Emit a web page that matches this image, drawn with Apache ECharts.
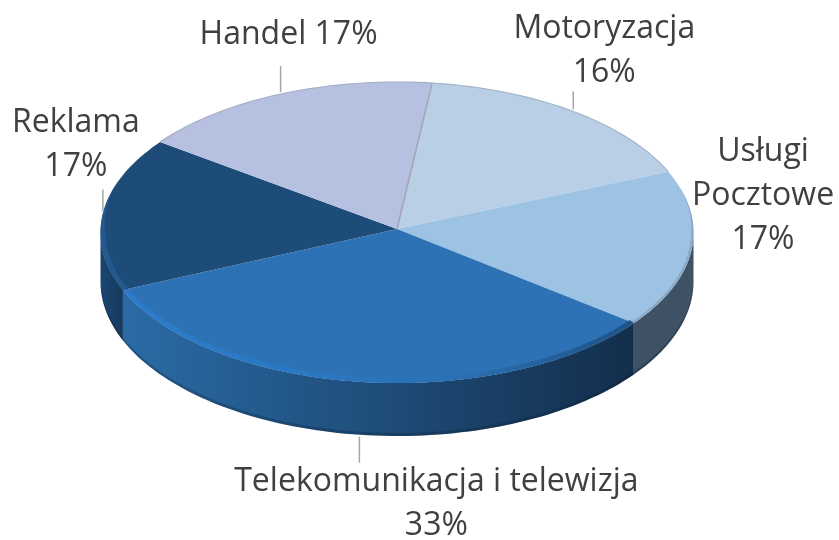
<!DOCTYPE html>
<html lang="pl">
<head>
<meta charset="utf-8">
<title>Pie 3D</title>
<script src="https://cdn.jsdelivr.net/npm/echarts@6/dist/echarts.min.js"></script>
<style>
html, body { margin: 0; padding: 0; background: #fff; }
#chart { width: 839px; height: 540px; }
</style>
</head>
<body>
<div id="chart"></div>
<script>
// values, clockwise from the top
var categories = ['Motoryzacja', 'Usługi\nPocztowe', 'Telekomunikacja i telewizja', 'Reklama', 'Handel'];
var values = [16.49, 16.9, 33.49, 16.5, 16.62];

var topColors = ['#b9cfe6', '#9cc2e4', '#2d72b5', '#1d4c78', '#b6c0e0'];
var backRim = ['#a3b4c8', null, null, null, '#a6afc8'];
var bandColors = [
    null,
    ['#8fa9c2', '#8fa9c2'],
    ['#2c7bca', '#2b78c4', '#2a70b2', '#1d5286'],
    ['#22598f', '#22598f'],
    null
];
var sideColors = [
    ['#3f5164', '#3f5164'], ['#3f5164', '#3f5164'],
    ['#2a6ba6', '#132e4c'], ['#1b4570', '#163a5e'], ['#1c4a76', '#1c4a76']
];

// label offset from the leader end
var labelLayout = [
    { dx: 31, dy: -41, leader: 20 },
    { fixed: [763, 196] },
    { dx: 77, dy: 41, leader: 28 },
    { dx: -27, dy: -45, leader: 24 },
    { dx: 8, dy: -31, leader: 28 }
];

var cx = 397, cy = 232.5, rx = 296.5, ry = 150.5;
var apex = [397, 229];
var startAngle = 6.8;
var font = '"Open Sans", sans-serif';

var total = values.reduce(function (a, b) { return a + b; }, 0);

function rad(a) { return a * Math.PI / 180; }
function wallDepth(a) { return 49 - 4 * Math.cos(rad(a)); }

function rimPoint(a, dy, inset) {
    var w = inset || 0;
    return [cx + (rx - w) * Math.sin(rad(a)), cy - (ry - w) * Math.cos(rad(a)) + (dy || 0)];
}
function angles(a0, a1) {
    var list = [];
    for (var a = a0; a < a1; a += 1.5) list.push(a);
    list.push(a1);
    return list;
}
function arc(a0, a1) {
    return angles(a0, a1).map(function (a) { return rimPoint(a); });
}
function wallArc(a0, a1, up) {
    return angles(a0, a1).map(function (a) { return rimPoint(a, wallDepth(a) - up); });
}
// bevel width tapers off towards the back of the disc
function bevel(a, w) {
    return w * Math.min(1, Math.max(0, (a - 72) / 20)) * Math.min(1, Math.max(0, (288 - a) / 20));
}
function bevelBand(a0, a1, w) {
    var outer = arc(a0, a1);
    var inner = angles(a0, a1).map(function (a) { return rimPoint(a, 0, bevel(a, w)); });
    return outer.concat(inner.reverse());
}
function hGradient(xa, xb, colors) {
    return new echarts.graphic.LinearGradient(Math.min(xa, xb), 0, Math.max(xa, xb), 0,
        colors.map(function (c, k) { return { offset: k / (colors.length - 1), color: c }; }), true);
}

function renderSlice(params, api) {
    var i = params.dataIndex;
    var before = values.slice(0, i).reduce(function (a, b) { return a + b; }, 0);
    var a0 = startAngle + before / total * 360;
    var a1 = a0 + api.value(0) / total * 360;
    var kids = [];

    // side wall, only the front half of the disc shows one
    var s0 = Math.max(a0, 90), s1 = Math.min(a1, 270);
    if (s1 > s0) {
        kids.push({
            type: 'polygon', shape: { points: arc(s0, s1).concat(wallArc(s0, s1, 0).reverse()) },
            style: { fill: hGradient(rimPoint(s0)[0], rimPoint(s1)[0], sideColors[i]) }
        });
        kids.push({
            type: 'polygon', shape: { points: wallArc(s0, s1, 0).concat(wallArc(s0, s1, 3).reverse()) },
            style: { fill: 'rgba(8,24,44,0.25)' }
        });
    }

    // top face
    kids.push({
        type: 'polygon', shape: { points: [apex].concat(arc(a0, a1)) },
        style: { fill: topColors[i] }
    });
    if (bandColors[i]) {
        kids.push({
            type: 'polygon', shape: { points: bevelBand(a0, a1, i === 1 ? 2.5 : 5) },
            style: { fill: hGradient(rimPoint(a0)[0], rimPoint(a1)[0], bandColors[i]) }
        });
    }
    if (backRim[i]) {
        kids.push({
            type: 'polyline', shape: { points: arc(a0, a1) },
            style: { fill: null, stroke: backRim[i], lineWidth: 1.2 }
        });
    }

    // handel / motoryzacja boundary is a thin grey line
    if (i === values.length - 1) {
        kids.push({
            type: 'line',
            shape: { x1: apex[0], y1: apex[1], x2: rimPoint(a1)[0], y2: rimPoint(a1)[1] },
            style: { stroke: '#a2a4b4', lineWidth: 1.5 }
        });
    }

    // leader and label
    var pct = Math.round(api.value(0) / total * 100) + '%';
    var name = categories[i];
    var text = name === 'Handel' ? name + ' ' + pct : name + '\n' + pct;
    var lay = labelLayout[i];
    var tx, ty;
    if (lay.fixed) {
        tx = lay.fixed[0]; ty = lay.fixed[1];
    } else {
        var mid = (a0 + a1) / 2;
        var m = rimPoint(mid, Math.cos(rad(mid)) < 0 ? wallDepth(mid) : 0);
        var dir = lay.dy < 0 ? -1 : 1;
        var endY = m[1] + dir * lay.leader;
        kids.push({
            type: 'line',
            shape: { x1: m[0], y1: m[1] + dir * 2, x2: m[0], y2: endY },
            style: { stroke: '#a6a6a6', lineWidth: 1.5 }
        });
        tx = m[0] + lay.dx; ty = endY + lay.dy;
    }
    kids.push({
        type: 'text',
        x: tx, y: ty,
        style: {
            text: text, fill: '#404040', fontFamily: font, fontSize: 32,
            lineHeight: 44, align: 'center', verticalAlign: 'middle'
        }
    });

    return { type: 'group', children: kids };
}

var chart = echarts.init(document.getElementById('chart'), null, { renderer: 'canvas' });
chart.setOption({
    animation: false,
    backgroundColor: '#ffffff',
    series: [{
        type: 'custom',
        coordinateSystem: 'none',
        renderItem: renderSlice,
        clip: false,
        data: values.map(function (v) { return [v]; })
    }]
});
</script>
</body>
</html>
